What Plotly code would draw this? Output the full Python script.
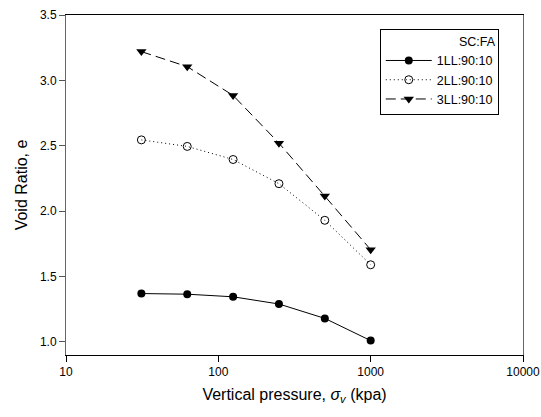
import plotly.graph_objects as go

pressure = [31.25, 62.5, 125, 250, 500, 1000]
e_1LL = [1.37, 1.365, 1.345, 1.29, 1.18, 1.01]
e_2LL = [2.545, 2.495, 2.395, 2.21, 1.93, 1.59]
e_3LL = [3.22, 3.105, 2.885, 2.52, 2.115, 1.705]
names = ["1LL:90:10", "2LL:90:10", "3LL:90:10"]

fig = go.Figure()
fig.add_trace(go.Scatter(x=pressure, y=e_1LL, name=names[0], mode="lines+markers",
                         line=dict(color="black", width=1, dash="solid"),
                         marker=dict(symbol="circle", size=8, color="black")))
fig.add_trace(go.Scatter(x=pressure, y=e_2LL, name=names[1], mode="lines+markers",
                         line=dict(color="black", width=1, dash="1px,3px"),
                         marker=dict(symbol="circle-open", size=8, color="black", line=dict(width=1))))
fig.add_trace(go.Scatter(x=pressure, y=e_3LL, name=names[2], mode="lines+markers",
                         line=dict(color="black", width=1, dash="10px,5px"),
                         marker=dict(symbol="triangle-down", size=9, color="black")))

font = "Liberation Sans, Arial, sans-serif"
fig.update_layout(
    width=541, height=417,
    margin=dict(l=66, r=18, t=15, b=62),
    paper_bgcolor="white", plot_bgcolor="white",
    font=dict(family=font, size=12, color="black"),
    showlegend=True,
    legend=dict(x=0.947, xanchor="right", y=0.96, yanchor="top",
                bordercolor="black", borderwidth=1, bgcolor="white",
                font=dict(size=12.5), itemwidth=46, tracegroupgap=0,
                title=dict(text="SC:FA", side="top right", font=dict(size=12.5))),
    xaxis=dict(type="log", range=[1, 4], tickvals=[10, 100, 1000, 10000],
               ticktext=["10", "100", "1000", "10000"],
               ticks="outside", ticklen=6, tickcolor="black",
               showline=True, linecolor="black", linewidth=1, mirror=True,
               showgrid=False, zeroline=False, automargin=False,
               tickfont=dict(size=12),
               title=dict(text="Vertical pressure, <i>σ<sub>v</sub></i> (kpa)", font=dict(size=16), standoff=10)),
    yaxis=dict(range=[0.9, 3.5], tickvals=[1.0, 1.5, 2.0, 2.5, 3.0, 3.5],
               ticktext=["1.0", "1.5", "2.0", "2.5", "3.0", "3.5"],
               ticks="outside", ticklen=6, tickcolor="#555",
               showline=True, linecolor="#666", linewidth=1, mirror=True,
               showgrid=False, zeroline=False, automargin=False,
               tickfont=dict(size=12),
               title=dict(text="Void Ratio, e", font=dict(size=16), standoff=8)),
)

fig.write_html("out.html", config={"displayModeBar": False},
               post_script="document.body.style.margin='0';document.body.style.padding='0';")
